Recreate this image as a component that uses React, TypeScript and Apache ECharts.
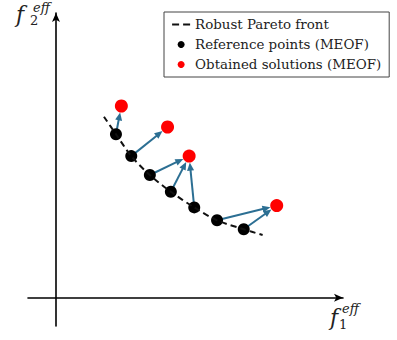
import React, { useEffect, useRef } from "react";
import * as echarts from "echarts";

// Robust Pareto front (dashed curve)
const frontX = [1.6, 2.0, 2.51, 3.13, 3.83, 4.61, 5.37, 6.26, 6.89];
const frontY = [6.03, 5.45, 4.72, 4.09, 3.53, 3.01, 2.58, 2.28, 2.09];
// Reference points (MEOF)
const refX = [2.0, 2.51, 3.13, 3.83, 4.61, 5.37, 6.26];
const refY = [5.45, 4.72, 4.09, 3.53, 3.01, 2.58, 2.28];
// Obtained solutions (MEOF)
const solX = [2.18, 3.72, 4.44, 7.36];
const solY = [6.39, 5.69, 4.72, 3.07];
// Arrows: reference index -> solution index
const arrowFrom = [0, 1, 2, 3, 4, 5, 6];
const arrowTo = [0, 1, 2, 2, 2, 3, 3];

const seriesNames = ["Robust Pareto front", "Reference points (MEOF)", "Obtained solutions (MEOF)"];

const ARROW = "#2c6f93";
const SERIF = "DejaVu Serif";

export default function App() {
  const ref = useRef<HTMLDivElement>(null);
  useEffect(() => {
    if (!ref.current) return;
    const chart = echarts.init(ref.current, undefined, { renderer: "svg" });
    const arrowData = arrowFrom.map((f, i) => [refX[f], refY[f], solX[arrowTo[i]], solY[arrowTo[i]]]);
    const axisCommon = {
      type: "value" as const,
      axisLine: {
        show: true,
        onZero: true,
        symbol: ["none", "arrow"],
        symbolSize: [6, 9],
        lineStyle: { color: "#000", width: 1.6 },
      },
      axisTick: { show: false },
      axisLabel: { show: false },
      splitLine: { show: false },
    };
    chart.setOption({
      animation: false,
      backgroundColor: "#fff",
      grid: { left: 28, right: 54, top: 13, bottom: 14 },
      xAxis: { ...axisCommon, min: -0.933, max: 9.57 },
      yAxis: { ...axisCommon, min: -0.943, max: 9.49 },
      legend: {
        data: [
          {
            name: seriesNames[0],
            itemStyle: { color: "rgba(0,0,0,0)", borderWidth: 0 },
            lineStyle: { color: "#111", width: 2.2, type: [7, 4] },
          },
          { name: seriesNames[1] },
          { name: seriesNames[2] },
        ],
        orient: "vertical",
        left: 164,
        top: 12,
        padding: [5, 8, 5, 7],
        itemGap: 5,
        itemWidth: 18,
        itemHeight: 7,
        borderColor: "#444",
        borderWidth: 1,
        textStyle: { fontFamily: SERIF, fontSize: 13.4, color: "#222", lineHeight: 15 },
      },
      graphic: [
        { type: "text", left: 16, top: 3, style: { text: "f", font: `italic 22px ${SERIF}`, fill: "#222" } },
        { type: "text", left: 30, top: 14, style: { text: "2", font: `13px ${SERIF}`, fill: "#222" } },
        { type: "text", left: 33, top: 1, style: { text: "eff", font: `italic 13px ${SERIF}`, fill: "#222" } },
        { type: "text", left: 330, top: 306, style: { text: "f", font: `italic 22px ${SERIF}`, fill: "#222" } },
        { type: "text", left: 339, top: 318, style: { text: "1", font: `13px ${SERIF}`, fill: "#222" } },
        { type: "text", left: 342, top: 302, style: { text: "eff", font: `italic 13px ${SERIF}`, fill: "#222" } },
      ],
      series: [
        {
          name: seriesNames[0],
          type: "line",
          data: frontX.map((x, i) => [x, frontY[i]]),
          symbol: "none",
          smooth: 0.3,
          lineStyle: { color: "#111", width: 2, type: [6, 4] },
          itemStyle: { color: "#111" },
        },
        {
          type: "custom",
          data: arrowData,
          encode: { x: [0, 2], y: [1, 3] },
          renderItem: (params: any, api: any) => {
            const p1 = api.coord([api.value(0), api.value(1)]);
            const p2 = api.coord([api.value(2), api.value(3)]);
            const dx = p2[0] - p1[0];
            const dy = p2[1] - p1[1];
            const len = Math.hypot(dx, dy);
            const ux = dx / len;
            const uy = dy / len;
            const r = 6.5;
            const tip = [p2[0] - ux * r, p2[1] - uy * r];
            const hl = 8;
            const hw = 3.5;
            const base = [tip[0] - ux * hl, tip[1] - uy * hl];
            const px = -uy;
            const py = ux;
            return {
              type: "group",
              children: [
                {
                  type: "line",
                  shape: { x1: p1[0], y1: p1[1], x2: base[0] + ux, y2: base[1] + uy },
                  style: { stroke: ARROW, lineWidth: 2 },
                },
                {
                  type: "polygon",
                  shape: {
                    points: [
                      tip,
                      [base[0] + px * hw, base[1] + py * hw],
                      [base[0] - px * hw, base[1] - py * hw],
                    ],
                  },
                  style: { fill: ARROW },
                },
              ],
            };
          },
        },
        {
          name: seriesNames[1],
          type: "scatter",
          data: refX.map((x, i) => [x, refY[i]]),
          symbol: "circle",
          symbolSize: 12,
          itemStyle: { color: "#000", opacity: 1 },
        },
        {
          name: seriesNames[2],
          type: "scatter",
          data: solX.map((x, i) => [x, solY[i]]),
          symbol: "circle",
          symbolSize: 13,
          itemStyle: { color: "#ff0000", opacity: 1 },
        },
      ],
    });
    return () => chart.dispose();
  }, []);
  return <div ref={ref} style={{ position: "fixed", left: 0, top: 0, width: 397, height: 340 }} />;
}
